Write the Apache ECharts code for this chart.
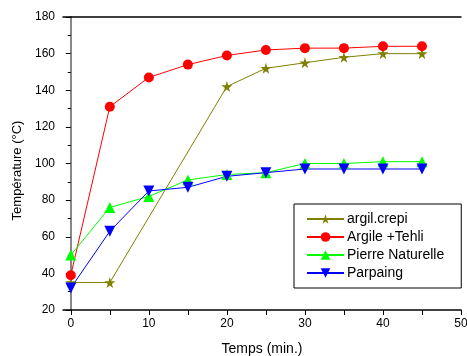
<!DOCTYPE html>
<html>
<head>
<meta charset="utf-8">
<script src="https://cdn.jsdelivr.net/npm/echarts@6/dist/echarts.min.js"></script>
<style>
  html, body { margin: 0; padding: 0; background: #fff; }
  #chart { width: 467px; height: 356px; }
</style>
</head>
<body>
<div id="chart"></div>
<script>
// temps (min.)
const argilTimes = [0, 5, 20, 25, 30, 35, 40, 45];
const argilCrepi = [35, 35, 142, 152, 155, 158, 160, 160];

const times = [0, 5, 10, 15, 20, 25, 30, 35, 40, 45];
const argileTehli = [39, 131, 147, 154, 159, 162, 163, 163, 164, 164];
const pierreNaturelle = [50, 76, 82, 91, 94, 95, 100, 100, 101, 101];
const parpaing = [32, 63, 85, 87, 93, 95, 97, 97, 97, 97];

const xLabels = [0, 10, 20, 30, 40, 50];
const xTicks = [0, 5, 10, 15, 20, 25, 30, 35, 40, 45, 50];

const font = 'Liberation Sans, Arial, sans-serif';

const pairs = (xs, ys) => xs.map((x, i) => [x, ys[i]]);

const chart = echarts.init(document.getElementById('chart'));

const mkSeries = (name, data, color, symbol, size, rotate) => ({
  name,
  type: 'line',
  data,
  symbol,
  symbolSize: size,
  symbolRotate: rotate || 0,
  lineStyle: { color, width: 1 },
  itemStyle: { color },
  emphasis: { disabled: true },
  z: 3
});

chart.setOption({
  animation: false,
  grid: { left: 63, top: 17, right: 6, bottom: 46, outerBoundsMode: 'none' },
  legend: {
    orient: 'vertical',
    left: 294,
    top: 204,
    padding: [8, 17, 8, 12],
    itemGap: 4,
    itemWidth: 37,
    itemHeight: 12,
    borderColor: '#000',
    borderWidth: 1,
    backgroundColor: '#fff',
    textStyle: { fontFamily: font, fontSize: 14, color: '#000', padding: [0, 0, 0, -2] },
    data: ['argil.crepi', 'Argile +Tehli', 'Pierre Naturelle', 'Parpaing']
  },
  xAxis: [{
    type: 'value',
    min: -1,
    max: 50,
    name: 'Temps (min.)',
    nameLocation: 'middle',
    nameGap: 32,
    nameTextStyle: { fontFamily: font, fontSize: 14, color: '#000' },
    axisLine: { lineStyle: { color: '#000', width: 1.5 } },
    axisTick: { customValues: xTicks, length: 5, lineStyle: { color: '#000' } },
    axisLabel: { customValues: xLabels, fontFamily: font, fontSize: 12, color: '#000', margin: 8 },
    splitLine: { show: false }
  }, {
    type: 'value',
    min: -1,
    max: 50,
    position: 'top',
    axisLine: { show: true, lineStyle: { color: '#000', width: 1.5 } },
    axisTick: { show: false },
    axisLabel: { show: false },
    splitLine: { show: false }
  }],
  yAxis: [{
    type: 'value',
    min: 20,
    max: 180,
    interval: 20,
    name: 'Température (°C)',
    nameLocation: 'middle',
    nameGap: 38,
    nameTextStyle: { fontFamily: font, fontSize: 13, color: '#000', padding: [0, 14, 0, 0] },
    axisLine: { show: true, lineStyle: { color: '#000', width: 1.5 } },
    axisTick: { show: true, length: 5, lineStyle: { color: '#000' } },
    minorTick: { show: true, splitNumber: 2, length: 3, lineStyle: { color: '#000' } },
    axisLabel: { fontFamily: font, fontSize: 12, color: '#000', margin: 8 },
    splitLine: { show: false }
  }, {
    type: 'value',
    min: 20,
    max: 180,
    position: 'right',
    axisLine: { show: true, lineStyle: { color: '#888', width: 2 } },
    axisTick: { show: false },
    axisLabel: { show: false },
    splitLine: { show: false }
  }],
  series: [
    mkSeries('argil.crepi', pairs(argilTimes, argilCrepi), '#808000',
      'path://M50,0 L61,35 L98,35 L68,57 L79,91 L50,70 L21,91 L32,57 L2,35 L39,35 Z', 11),
    mkSeries('Argile +Tehli', pairs(times, argileTehli), '#ff0000', 'circle', 10),
    mkSeries('Pierre Naturelle', pairs(times, pierreNaturelle), '#00ff00', 'triangle', 11),
    mkSeries('Parpaing', pairs(times, parpaing), '#0000ff', 'triangle', 11, 180)
  ]
});
</script>
</body>
</html>
